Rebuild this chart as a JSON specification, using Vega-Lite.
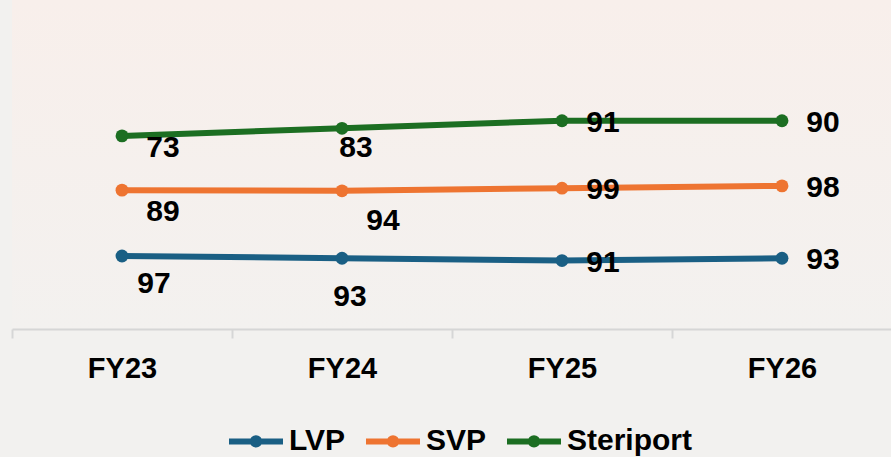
{
  "$schema": "https://vega.github.io/schema/vega-lite/v6.json",
  "width": 880,
  "height": 329,
  "padding": {"left": 11, "top": 0, "right": 0, "bottom": 0},
  "autosize": {"type": "pad"},
  "background": "#f2f1ef",
  "config": {
    "view": {"stroke": null, "fill": {"gradient": "linear", "x1": 0, "y1": 0, "x2": 0, "y2": 1, "stops": [{"offset": 0, "color": "#f8efeb"}, {"offset": 1, "color": "#f3f1ef"}]}},
    "font": "Liberation Sans"
  },
  "data": {
    "values": [
      {"year": "FY23", "series": "LVP", "value": 97, "plot": 22.2},
      {"year": "FY24", "series": "LVP", "value": 93, "plot": 21.5},
      {"year": "FY25", "series": "LVP", "value": 91, "plot": 20.8},
      {"year": "FY26", "series": "LVP", "value": 93, "plot": 21.5},
      {"year": "FY23", "series": "SVP", "value": 89, "plot": 42.2},
      {"year": "FY24", "series": "SVP", "value": 94, "plot": 42.0},
      {"year": "FY25", "series": "SVP", "value": 99, "plot": 42.8},
      {"year": "FY26", "series": "SVP", "value": 98, "plot": 43.5},
      {"year": "FY23", "series": "Steriport", "value": 73, "plot": 58.7},
      {"year": "FY24", "series": "Steriport", "value": 83, "plot": 61.0},
      {"year": "FY25", "series": "Steriport", "value": 91, "plot": 63.3},
      {"year": "FY26", "series": "Steriport", "value": 90, "plot": 63.3}
    ]
  },
  "encoding": {
    "x": {
      "field": "year",
      "type": "ordinal",
      "bandPosition": 0.5,
      "scale": {"type": "band", "paddingInner": 0, "paddingOuter": 0},
      "axis": {
        "title": null,
        "labelAngle": 0,
        "domainColor": "#d6d6d6",
        "domainWidth": 2,
        "tickColor": "#d6d6d6",
        "tickWidth": 2,
        "tickSize": 9,
        "tickBand": "extent",
        "labelFont": "Liberation Sans",
        "labelFontWeight": "bold",
        "labelFontSize": 29,
        "labelColor": "#000000",
        "labelPadding": 16
      }
    },
    "y": {"field": "plot", "type": "quantitative", "scale": {"domain": [0, 100]}, "axis": null}
  },
  "layer": [
    {
      "mark": {"type": "line", "strokeWidth": 6, "point": {"size": 165, "filled": true, "opacity": 1}},
      "encoding": {
        "color": {
          "field": "series",
          "type": "nominal",
          "scale": {"domain": ["LVP", "SVP", "Steriport"], "range": ["#1a5f84", "#ee7431", "#1c6e22"]},
          "legend": {
            "title": null,
            "orient": "none",
            "direction": "horizontal",
            "legendX": 214,
            "legendY": 411,
            "labelFont": "Liberation Sans",
            "labelFontSize": 30,
            "labelFontWeight": "bold",
            "labelColor": "#000000",
            "labelOffset": 3,
            "columnPadding": 8,
            "symbolType": "M-1,0L1,0M-0.12,0A0.12,0.12,0,1,0,0.12,0A0.12,0.12,0,1,0,-0.12,0Z",
            "symbolSize": 2916,
            "symbolStrokeWidth": 6,
            "symbolOpacity": 1,
            "encode": {"symbols": {"update": {"fill": {"scale": "color", "field": "value"}}}}
          }
        }
      }
    },
    {
      "mark": {
        "type": "text",
        "font": "Liberation Sans",
        "fontSize": 30,
        "fontWeight": "bold",
        "align": "center",
        "baseline": "middle",
        "dx": {"expr": "datum.year === 'FY23' ? (datum.series === 'LVP' ? 32 : 41) : datum.year === 'FY24' ? (datum.series === 'LVP' ? 8 : datum.series === 'SVP' ? 41 : 14) : 41"},
        "dy": {"expr": "datum.year === 'FY23' ? (datum.series === 'LVP' ? 28 : datum.series === 'SVP' ? 22 : 12) : datum.year === 'FY24' ? (datum.series === 'LVP' ? 39 : datum.series === 'SVP' ? 30 : 20) : 2"}
      },
      "encoding": {"text": {"field": "value"}, "color": {"value": "#000000"}}
    }
  ]
}
